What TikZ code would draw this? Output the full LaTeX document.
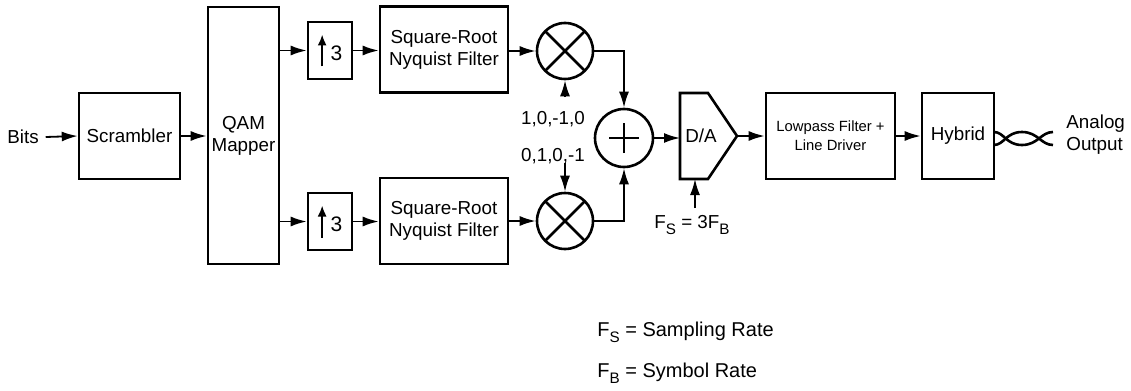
\documentclass[tikz,border=0pt]{standalone}
\usepackage{fontspec}
\setmainfont{Liberation Sans}
\usepackage{tikz}
\usetikzlibrary{arrows.meta,positioning,calc}

\newcommand{\upthree}{%
  \tikz[baseline=0pt]\draw[line width=0.9pt,-{Latex[length=5.5pt,width=4.5pt]}] (0,-3pt) -- (0,13pt);\hspace{2pt}3}
\newcommand{\lowsub}[1]{\raisebox{-0.55ex}{\fontsize{7.6}{8}\selectfont #1}}

\begin{document}
\begin{tikzpicture}[
    x=0.5pt, y=-0.5pt,
    font=\fontsize{9.4}{11}\selectfont,
    block/.style={
        draw,
        line width=1.3pt,
        align=center,
        inner sep=1pt
    },
    mult/.style={
        circle,
        draw,
        line width=1.3pt,
        minimum size=28pt,
        inner sep=0pt,
        path picture={
            \draw[line width=1.3pt] (path picture bounding box.center) +(45:16pt) -- +(225:16pt);
            \draw[line width=1.3pt] (path picture bounding box.center) +(135:16pt) -- +(315:16pt);
        }
    },
    adder/.style={
        circle,
        draw,
        line width=1.3pt,
        minimum size=29pt,
        inner sep=0pt,
        path picture={
            \draw[line width=1.3pt] (path picture bounding box.center) +(-7.5pt,0pt) -- +(7.5pt,0pt);
            \draw[line width=1.3pt] (path picture bounding box.center) +(0pt,-7.5pt) -- +(0pt,7.5pt);
        }
    },
    arr/.style={line width=0.9pt, -{Latex[length=8pt,width=5pt]}},
    wire/.style={line width=1.3pt}
]

\useasboundingbox (0,0) rectangle (1131,391);

% input chain
\node (bits) at (23,137) {Bits};
\node[block, minimum width=50.5pt, minimum height=43pt] (scr) at (129.5,136) {Scrambler};
\node[block, minimum width=35.5pt, minimum height=128.5pt] (qam) at (243.5,135.5) {QAM\\Mapper};

\draw[arr] (bits.east) -- (scr.west);
\draw[arr] (scr.east) -- (qam.west |- scr.east);

% upsamplers
\node[block, minimum width=22pt, minimum height=28.5pt, font=\fontsize{10.5}{12}\selectfont] (up1) at (330,50.5) {\upthree};
\node[block, minimum width=22pt, minimum height=28.5pt, font=\fontsize{10.5}{12}\selectfont] (up2) at (330,221.5) {\upthree};

\draw[arr] (qam.east |- up1.west) -- (up1.west);
\draw[arr] (qam.east |- up2.west) -- (up2.west);

% pulse shaping filters
\node[block, minimum width=64pt, minimum height=43pt] (flt1) at (444,49.5) {Square-Root\\Nyquist Filter};
\node[block, minimum width=64pt, minimum height=43pt] (flt2) at (444,221) {Square-Root\\Nyquist Filter};

\draw[arr] (up1.east) -- (flt1.west |- up1.east);
\draw[arr] (up2.east) -- (flt2.west |- up2.east);

% mixers and adder
\node[mult] (mul1) at (565,51) {};
\node[mult] (mul2) at (565,221) {};
\node[adder] (sum) at (624,138) {};

\draw[arr] (flt1.east |- mul1.west) -- (mul1.west);
\draw[arr] (flt2.east |- mul2.west) -- (mul2.west);
\draw[arr] (mul1.east) -| (sum.north);
\draw[arr] (mul2.east) -| (sum.south);

\node (seq1) at (553,119) {1,0,-1,0};
\node (seq2) at (553,156) {0,1,0,-1};
\coordinate (c1) at (565,97);
\coordinate (c2) at (565,163);
\draw[arr] (c1) -- (mul1.south);
\draw[arr] (c2) -- (mul2.north);

% converter
\draw[line width=1.3pt] (680,93) coordinate (daNW) -- (708,93) -- (737,136) coordinate (datip)
    -- (708,179) -- (680,179) coordinate (daSW) -- cycle;
\node (da) at (701,136) {D/A};
\draw[arr] (sum.east) -- (sum.east -| daNW);

\coordinate (fsarr) at (695,208);
\draw[arr] (fsarr) -- (fsarr |- daSW);
\node (fs) at (692,225) {F\lowsub{S} = 3F\lowsub{B}};

% line side
\node[block, minimum width=64.5pt, minimum height=43pt, font=\fontsize{7.4}{9.5}\selectfont] (lp) at (830.5,136) {Lowpass Filter +\\Line Driver};
\node[block, minimum width=36pt, minimum height=43pt] (hy) at (958,136) {Hybrid};

\draw[arr] (datip) -- (lp.west);
\draw[arr] (lp.east) -- (hy.west);

% twisted pair
\draw[wire] (994,132) .. controls (1004,132) and (1006,145) .. (1022,145) .. controls (1038,145) and (1041,132) .. (1053,132);
\draw[wire] (994,145) .. controls (1004,145) and (1006,132) .. (1022,132) .. controls (1038,132) and (1041,145) .. (1053,145);

\node[anchor=west, align=left, inner sep=0pt] (out) at (1066,135) {Analog\\Output};

% legend
\node[anchor=west, inner sep=0pt, font=\fontsize{10}{12}\selectfont] (leg1) at (597,332) {F\lowsub{S} = Sampling Rate};
\node[anchor=west, inner sep=0pt, font=\fontsize{10}{12}\selectfont] (leg2) at (597,373) {F\lowsub{B} = Symbol Rate};

\end{tikzpicture}
\end{document}
